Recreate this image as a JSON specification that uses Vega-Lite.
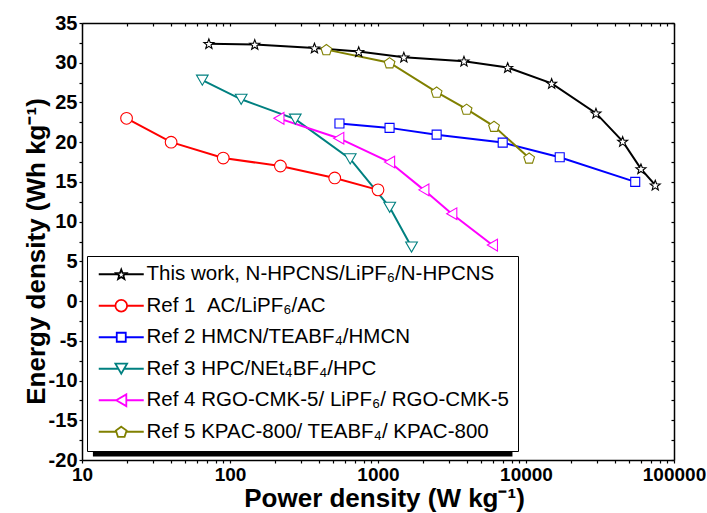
{
  "$schema": "https://vega.github.io/schema/vega-lite/v6.json",
  "width": 592,
  "height": 437,
  "autosize": "none",
  "padding": {"left": 82, "top": 23, "right": 33, "bottom": 53},
  "config": {
    "view": {"stroke": null},
    "font": "Liberation Sans",
    "axis": {"grid": false, "domainColor": "black", "tickColor": "black", "labelColor": "black", "titleColor": "black", "domainWidth": 1.5, "tickWidth": 1.2}
  },
  "data": {
    "values": [
      {"series": "This work, N-HPCNS/LiPF₆/N-HPCNS", "p": 72, "e": 32.4},
      {"series": "This work, N-HPCNS/LiPF₆/N-HPCNS", "p": 147, "e": 32.3},
      {"series": "This work, N-HPCNS/LiPF₆/N-HPCNS", "p": 372, "e": 31.85},
      {"series": "This work, N-HPCNS/LiPF₆/N-HPCNS", "p": 741, "e": 31.4},
      {"series": "This work, N-HPCNS/LiPF₆/N-HPCNS", "p": 1495, "e": 30.7},
      {"series": "This work, N-HPCNS/LiPF₆/N-HPCNS", "p": 3810, "e": 30.2},
      {"series": "This work, N-HPCNS/LiPF₆/N-HPCNS", "p": 7520, "e": 29.4},
      {"series": "This work, N-HPCNS/LiPF₆/N-HPCNS", "p": 14900, "e": 27.4},
      {"series": "This work, N-HPCNS/LiPF₆/N-HPCNS", "p": 29700, "e": 23.65},
      {"series": "This work, N-HPCNS/LiPF₆/N-HPCNS", "p": 45000, "e": 20.1},
      {"series": "This work, N-HPCNS/LiPF₆/N-HPCNS", "p": 59800, "e": 16.65},
      {"series": "This work, N-HPCNS/LiPF₆/N-HPCNS", "p": 74700, "e": 14.6},
      {"series": "Ref 1 \u00a0AC/LiPF₆/AC", "p": 20, "e": 23},
      {"series": "Ref 1 \u00a0AC/LiPF₆/AC", "p": 40, "e": 20},
      {"series": "Ref 1 \u00a0AC/LiPF₆/AC", "p": 90, "e": 18},
      {"series": "Ref 1 \u00a0AC/LiPF₆/AC", "p": 219, "e": 17},
      {"series": "Ref 1 \u00a0AC/LiPF₆/AC", "p": 510, "e": 15.5},
      {"series": "Ref 1 \u00a0AC/LiPF₆/AC", "p": 1000, "e": 14},
      {"series": "Ref 2 HMCN/TEABF₄/HMCN", "p": 549, "e": 22.35},
      {"series": "Ref 2 HMCN/TEABF₄/HMCN", "p": 1197, "e": 21.8},
      {"series": "Ref 2 HMCN/TEABF₄/HMCN", "p": 2490, "e": 20.95},
      {"series": "Ref 2 HMCN/TEABF₄/HMCN", "p": 6960, "e": 19.95},
      {"series": "Ref 2 HMCN/TEABF₄/HMCN", "p": 16900, "e": 18.1},
      {"series": "Ref 2 HMCN/TEABF₄/HMCN", "p": 54700, "e": 15},
      {"series": "Ref 3 HPC/NEt₄BF₄/HPC", "p": 65, "e": 27.8},
      {"series": "Ref 3 HPC/NEt₄BF₄/HPC", "p": 119, "e": 25.4},
      {"series": "Ref 3 HPC/NEt₄BF₄/HPC", "p": 276, "e": 22.9},
      {"series": "Ref 3 HPC/NEt₄BF₄/HPC", "p": 649, "e": 17.9},
      {"series": "Ref 3 HPC/NEt₄BF₄/HPC", "p": 1200, "e": 11.8},
      {"series": "Ref 3 HPC/NEt₄BF₄/HPC", "p": 1685, "e": 6.8},
      {"series": "Ref 4 RGO-CMK-5/ LiPF₆/ RGO-CMK-5", "p": 214, "e": 23},
      {"series": "Ref 4 RGO-CMK-5/ LiPF₆/ RGO-CMK-5", "p": 543, "e": 20.5},
      {"series": "Ref 4 RGO-CMK-5/ LiPF₆/ RGO-CMK-5", "p": 1197, "e": 17.5},
      {"series": "Ref 4 RGO-CMK-5/ LiPF₆/ RGO-CMK-5", "p": 2040, "e": 14},
      {"series": "Ref 4 RGO-CMK-5/ LiPF₆/ RGO-CMK-5", "p": 3150, "e": 11},
      {"series": "Ref 4 RGO-CMK-5/ LiPF₆/ RGO-CMK-5", "p": 5930, "e": 7.05},
      {"series": "Ref 5 KPAC-800/ TEABF₄/ KPAC-800", "p": 448, "e": 31.65},
      {"series": "Ref 5 KPAC-800/ TEABF₄/ KPAC-800", "p": 1197, "e": 30},
      {"series": "Ref 5 KPAC-800/ TEABF₄/ KPAC-800", "p": 2490, "e": 26.3},
      {"series": "Ref 5 KPAC-800/ TEABF₄/ KPAC-800", "p": 3970, "e": 24.15},
      {"series": "Ref 5 KPAC-800/ TEABF₄/ KPAC-800", "p": 6080, "e": 22},
      {"series": "Ref 5 KPAC-800/ TEABF₄/ KPAC-800", "p": 10500, "e": 18}
    ]
  },
  "resolve": {
    "scale": {"shape": "independent", "stroke": "independent"},
    "axis": {"x": "independent", "y": "independent"}
  },
  "layer": [
    {
      "data": {"values": [{}]},
      "mark": {"type": "rect", "fill": "black"},
      "encoding": {
        "x": {"datum": 11.85, "type": "quantitative", "scale": {"type": "log", "domain": [10, 100000], "nice": false}, "axis": null},
        "x2": {"datum": 8100},
        "y": {"datum": 5.0, "type": "quantitative", "scale": {"domain": [-20, 35], "nice": false, "zero": false}, "axis": null},
        "y2": {"datum": -19.56}
      }
    },
    {
      "mark": {"type": "line", "strokeWidth": 2},
      "encoding": {
        "x": {
          "field": "p", "type": "quantitative",
          "scale": {"type": "log", "domain": [10, 100000], "nice": false},
          "axis": {
            "orient": "bottom",
            "values": [10, 20, 30, 40, 50, 60, 70, 80, 90, 100, 200, 300, 400, 500, 600, 700, 800, 900, 1000, 2000, 3000, 4000, 5000, 6000, 7000, 8000, 9000, 10000, 20000, 30000, 40000, 50000, 60000, 70000, 80000, 90000, 100000],
            "labelExpr": "indexof([10, 100, 1000, 10000, 100000], datum.value) >= 0 ? '' + datum.value : ''",
            "labelOverlap": false, "labelFlush": false, "labelBound": false,
            "tickSize": 3, "labelPadding": 2,
            "labelFont": "Liberation Sans", "labelFontSize": 19, "labelFontWeight": "bold",
            "title": "Power density (W kg⁻¹)",
            "titleFont": "Liberation Sans", "titleFontSize": 26, "titleFontWeight": "bold",
            "titleX": 302, "titleY": 46, "titleAlign": "center", "titleBaseline": "alphabetic"
          }
        },
        "y": {
          "field": "e", "type": "quantitative",
          "scale": {"domain": [-20, 35], "nice": false, "zero": false},
          "axis": {
            "orient": "left",
            "values": [-20, -17.5, -15, -12.5, -10, -7.5, -5, -2.5, 0, 2.5, 5, 7.5, 10, 12.5, 15, 17.5, 20, 22.5, 25, 27.5, 30, 32.5, 35],
            "labelExpr": "datum.value % 5 === 0 ? '' + datum.value : ''",
            "labelOverlap": false, "labelFlush": false, "labelBound": false,
            "tickSize": 3, "labelPadding": 2,
            "labelFont": "Liberation Sans", "labelFontSize": 20, "labelFontWeight": "bold",
            "title": "Energy density (Wh kg⁻¹)",
            "titleFont": "Liberation Sans", "titleFontSize": 26, "titleFontWeight": "bold",
            "titleAngle": -90, "titleX": -38, "titleY": 228, "titleAlign": "center", "titleBaseline": "alphabetic"
          }
        },
        "color": {
          "field": "series", "type": "nominal",
          "scale": {
            "domain": ["This work, N-HPCNS/LiPF₆/N-HPCNS", "Ref 1 \u00a0AC/LiPF₆/AC", "Ref 2 HMCN/TEABF₄/HMCN", "Ref 3 HPC/NEt₄BF₄/HPC", "Ref 4 RGO-CMK-5/ LiPF₆/ RGO-CMK-5", "Ref 5 KPAC-800/ TEABF₄/ KPAC-800"],
            "range": ["#000000", "#FF0000", "#0000FF", "#008080", "#FF00FF", "#808000"]
          },
          "legend": null
        }
      }
    },
    {
      "mark": {"type": "point", "filled": true, "fill": "white", "strokeWidth": 1.1, "size": 144, "opacity": 1},
      "encoding": {
        "x": {"field": "p", "type": "quantitative", "scale": {"type": "log", "domain": [10, 100000], "nice": false}, "axis": null},
        "y": {"field": "e", "type": "quantitative", "scale": {"domain": [-20, 35], "nice": false, "zero": false}, "axis": null},
        "stroke": {
          "field": "series", "type": "nominal",
          "scale": {
            "domain": ["This work, N-HPCNS/LiPF₆/N-HPCNS", "Ref 1 \u00a0AC/LiPF₆/AC", "Ref 2 HMCN/TEABF₄/HMCN", "Ref 3 HPC/NEt₄BF₄/HPC", "Ref 4 RGO-CMK-5/ LiPF₆/ RGO-CMK-5", "Ref 5 KPAC-800/ TEABF₄/ KPAC-800"],
            "range": ["#000000", "#FF0000", "#0000FF", "#008080", "#FF00FF", "#808000"]
          },
          "legend": null
        },
        "shape": {
          "field": "series", "type": "nominal",
          "scale": {
            "domain": ["This work, N-HPCNS/LiPF₆/N-HPCNS", "Ref 1 \u00a0AC/LiPF₆/AC", "Ref 2 HMCN/TEABF₄/HMCN", "Ref 3 HPC/NEt₄BF₄/HPC", "Ref 4 RGO-CMK-5/ LiPF₆/ RGO-CMK-5", "Ref 5 KPAC-800/ TEABF₄/ KPAC-800"],
            "range": [
              "M0,-0.796L0.217,-0.215L0.837,-0.188L0.351,0.198L0.517,0.796L0,0.454L-0.517,0.796L-0.351,0.198L-0.837,-0.188L-0.217,-0.215Z",
              "M0.975,0A0.975,0.975 0 1,1 -0.975,0A0.975,0.975 0 1,1 0.975,0Z",
              "M-0.75,-0.75H0.75V0.75H-0.75Z",
              "M-0.975,-0.844H0.975L0,0.844Z",
              "M-0.844,0L0.844,-0.975V0.975Z",
              "M0,-0.85L0.894,-0.2L0.553,0.85L-0.553,0.85L-0.894,-0.2Z"
            ]
          },
          "legend": null
        }
      }
    },
    {
      "transform": [{"filter": "false"}],
      "mark": {"type": "point", "filled": true, "fill": "white", "strokeWidth": 1.8, "size": 144, "opacity": 1},
      "encoding": {
        "x": {"field": "p", "type": "quantitative", "scale": {"type": "log", "domain": [10, 100000], "nice": false}, "axis": null},
        "y": {"field": "e", "type": "quantitative", "scale": {"domain": [-20, 35], "nice": false, "zero": false}, "axis": null},
        "stroke": {
          "field": "series", "type": "nominal",
          "scale": {
            "domain": ["This work, N-HPCNS/LiPF₆/N-HPCNS", "Ref 1 \u00a0AC/LiPF₆/AC", "Ref 2 HMCN/TEABF₄/HMCN", "Ref 3 HPC/NEt₄BF₄/HPC", "Ref 4 RGO-CMK-5/ LiPF₆/ RGO-CMK-5", "Ref 5 KPAC-800/ TEABF₄/ KPAC-800"],
            "range": ["#000000", "#FF0000", "#0000FF", "#008080", "#FF00FF", "#808000"]
          },
          "legend": {"title": null, "orient": "none", "legendX": 5, "legendY": 233, "fillColor": "white", "strokeColor": "black", "padding": 8, "labelFont": "Liberation Sans", "labelFontSize": 20.5, "labelColor": "black", "labelLimit": 0, "rowPadding": 10.5, "symbolSize": 144, "symbolStrokeWidth": 1.8, "symbolOffset": 0, "labelOffset": 31, "symbolFillColor": "white"}
        },
        "shape": {
          "field": "series", "type": "nominal",
          "scale": {
            "domain": ["This work, N-HPCNS/LiPF₆/N-HPCNS", "Ref 1 \u00a0AC/LiPF₆/AC", "Ref 2 HMCN/TEABF₄/HMCN", "Ref 3 HPC/NEt₄BF₄/HPC", "Ref 4 RGO-CMK-5/ LiPF₆/ RGO-CMK-5", "Ref 5 KPAC-800/ TEABF₄/ KPAC-800"],
            "range": [
              "M-1.083,0H2.067M3.267,0H6.417M2.667,-0.796L2.884,-0.215L3.504,-0.188L3.018,0.198L3.184,0.796L2.667,0.454L2.15,0.796L2.316,0.198L1.83,-0.188L2.45,-0.215Z",
              "M-1.083,0H1.692M3.642,0H6.417M3.642,0A0.975,0.975 0 1,1 1.692,0A0.975,0.975 0 1,1 3.642,0Z",
              "M-1.083,0H1.917M3.417,0H6.417M1.917,-0.75H3.417V0.75H1.917Z",
              "M-1.083,0H2.177M3.157,0H6.417M1.692,-0.844H3.642L2.667,0.844Z",
              "M-1.083,0H1.823M3.511,0H6.417M1.823,0L3.511,-0.975V0.975Z",
              "M-1.083,0H1.837M3.497,0H6.417M2.667,-0.85L3.561,-0.2L3.22,0.85L2.114,0.85L1.773,-0.2Z"
            ]
          },
          "legend": {"title": null, "orient": "none", "legendX": 5, "legendY": 233, "fillColor": "white", "strokeColor": "black", "padding": 8, "labelFont": "Liberation Sans", "labelFontSize": 20.5, "labelColor": "black", "labelLimit": 0, "rowPadding": 10.5, "symbolSize": 144, "symbolStrokeWidth": 1.8, "symbolOffset": 0, "labelOffset": 31, "symbolFillColor": "white"}
        }
      }
    },
    {
      "data": {"values": [{}]},
      "mark": {"type": "point", "opacity": 0},
      "encoding": {
        "x": {
          "datum": 10, "type": "quantitative",
          "scale": {"type": "log", "domain": [10, 100000], "nice": false},
          "axis": {"orient": "top", "values": [10, 20, 30, 40, 50, 60, 70, 80, 90, 100, 200, 300, 400, 500, 600, 700, 800, 900, 1000, 2000, 3000, 4000, 5000, 6000, 7000, 8000, 9000, 10000, 20000, 30000, 40000, 50000, 60000, 70000, 80000, 90000, 100000], "labels": false, "tickSize": -3, "title": null}
        },
        "y": {
          "datum": 0, "type": "quantitative",
          "scale": {"domain": [-20, 35], "nice": false, "zero": false},
          "axis": {"orient": "right", "values": [-20, -17.5, -15, -12.5, -10, -7.5, -5, -2.5, 0, 2.5, 5, 7.5, 10, 12.5, 15, 17.5, 20, 22.5, 25, 27.5, 30, 32.5, 35], "labels": false, "tickSize": -3, "title": null}
        }
      }
    }
  ]
}
